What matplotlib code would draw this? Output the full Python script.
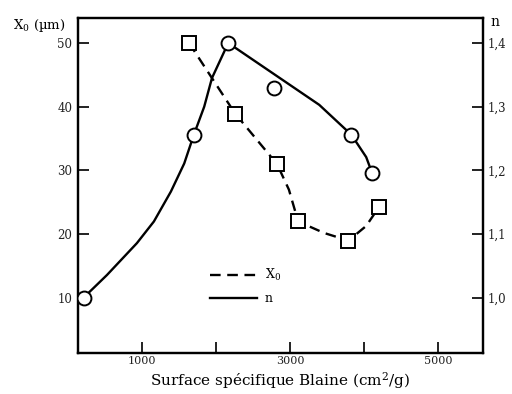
import matplotlib
matplotlib.use("Agg")
import matplotlib.pyplot as plt
from matplotlib.ticker import FuncFormatter

plt.rcParams['font.family'] = ['DejaVu Serif']
plt.rcParams['mathtext.fontset'] = 'dejavuserif'

# measured points
surface_n = [215, 1700, 2165, 2785, 3830, 4110]
n_values = [1.00, 1.256, 1.40, 1.329, 1.256, 1.196]
surface_x0 = [1635, 2260, 2825, 3110, 3790, 4205]
x0_values = [50, 38.9, 31.0, 22.0, 19.0, 24.3]

# hand drawn trend lines
n_line_x = [215, 285, 525, 930, 1160, 1390, 1570, 1700, 1840, 1945, 2165, 3395, 3830, 4030, 4110]
n_line_y = [1.00, 1.009, 1.036, 1.086, 1.12, 1.167, 1.211, 1.256, 1.30, 1.345, 1.40, 1.303, 1.256, 1.221, 1.196]
x0_line_x = [1635, 2260, 2825, 2985, 3110, 3460, 3790, 4030, 4205]
x0_line_y = [50, 38.9, 31.0, 27.0, 22.0, 20.2, 19.0, 21.3, 24.3]

x_ticks = [1000, 2000, 3000, 4000, 5000]
x_tick_labels = ['1000', '', '3000', '', '5000']
x0_ticks = [10, 20, 30, 40, 50]
n_ticks = [1.0, 1.1, 1.2, 1.3, 1.4]

fig = plt.figure(figsize=(5.12, 3.94), dpi=100)
ax = fig.add_axes([78/512, 41/394, 405/512, 335/394])
ax2 = ax.twinx()

lw = 1.7
dash = (0, (4.5, 2.8))

l_x0, = ax.plot(x0_line_x, x0_line_y, color='black', lw=lw, linestyle=dash, zorder=2)
ax.plot(surface_x0, x0_values, linestyle='none', marker='s', ms=9.5,
        mfc='white', mec='black', mew=1.4, zorder=3)

l_n, = ax2.plot(n_line_x, n_line_y, color='black', lw=lw, zorder=2)
ax2.plot(surface_n, n_values, linestyle='none', marker='o', ms=10,
         mfc='white', mec='black', mew=1.4, zorder=3)

ax.set_xlim(134, 5609)
ax.set_ylim(1.37, 53.92)
ax2.set_ylim(0.9137, 1.4392)

ax.set_xticks(x_ticks)
ax.set_xticklabels(x_tick_labels)
ax.set_yticks(x0_ticks)
ax2.set_yticks(n_ticks)
ax2.yaxis.set_major_formatter(FuncFormatter(lambda v, p: f'{v:.1f}'.replace('.', ',')))

for a in (ax, ax2):
    for s in a.spines.values():
        s.set_linewidth(1.6)
    a.tick_params(direction='in', length=8, width=1.4, labelsize=8.5, colors='#222222')
ax.tick_params(axis='x', pad=2, labelsize=8)
ax.tick_params(axis='y', pad=4)
ax2.tick_params(axis='y', pad=3)

fig.text(280/512, 1 - 386/394, 'Surface spécifique Blaine (cm$^2$/g)',
         fontsize=11, ha='center', va='baseline')
fig.text(13/512, 1 - 25/394, 'X$_0$ (µm)', fontsize=9.5, va='center', ha='left')
fig.text(490/512, 1 - 22/394, 'n', fontsize=10, va='center', ha='left')

ax.legend([l_x0, l_n], ['X$_0$', 'n'], loc='center left',
          bbox_to_anchor=(0.325, 0.20), frameon=False, fontsize=9,
          handlelength=3.8, handletextpad=0.6, labelspacing=0.7,
          borderpad=0, borderaxespad=0)

fig.savefig('out.png', dpi=100)
